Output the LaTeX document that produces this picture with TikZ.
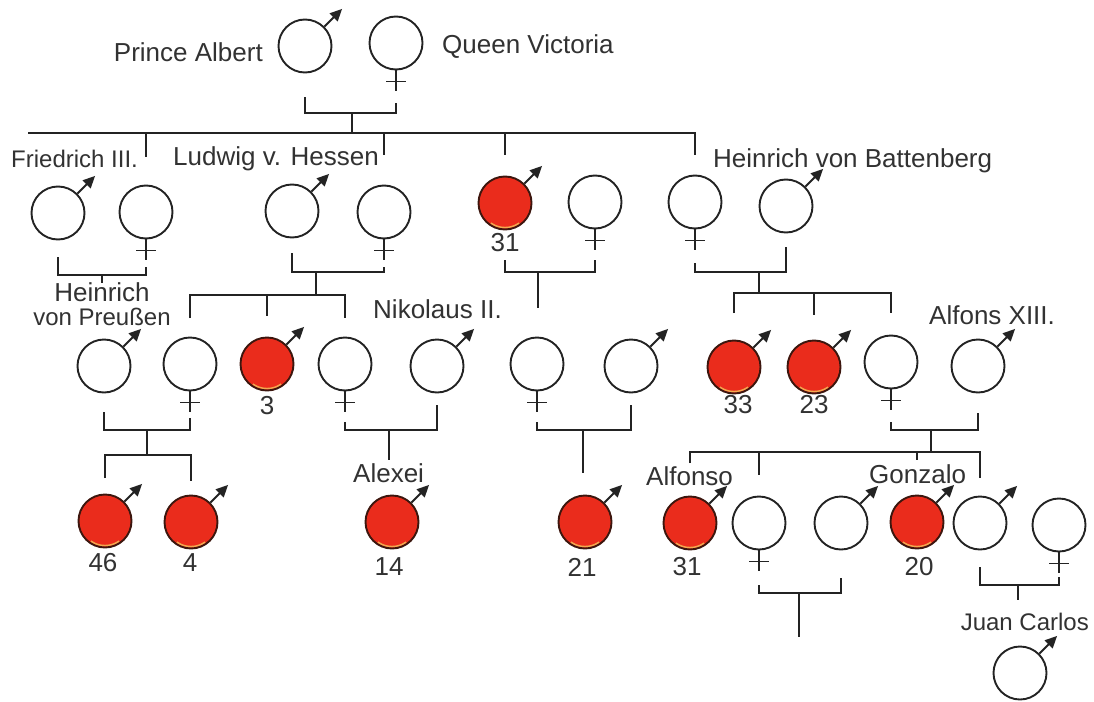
\documentclass[tikz,border=0pt]{standalone}
\usepackage{fontspec}
\setmainfont{Liberation Sans}
\usetikzlibrary{arrows.meta,calc}
\definecolor{ink}{RGB}{35,35,35}
\definecolor{txt}{RGB}{50,50,50}
\definecolor{blood}{RGB}{234,44,28}
\definecolor{rim}{RGB}{60,22,14}
\definecolor{glow}{RGB}{240,170,80}
\tikzset{
  person/.style={circle, draw=ink, line width=1.9pt, minimum size=53pt, inner sep=0pt, fill=white},
  affected/.style={person, fill=blood, draw=rim},
  line/.style={draw=ink, line width=1.9pt},
  marrow/.style={line, -{Triangle[length=12pt,width=11pt]}},
  lbl/.style={text=txt, font=\fontsize{26}{29}\selectfont, inner sep=0pt},
  lblsmall/.style={lbl, font=\fontsize{24}{28}\selectfont},
}
\newcommand{\Mnode}[4]{\node[#1] (#2) at (#3,#4) {};
  \draw[marrow] (#2.45) -- ++(45:25pt);}
\newcommand{\Anode}[3]{\node[affected] (#1) at (#2,#3) {};
  \draw[glow, line width=1.4pt] ($(#1)+(-125:24.5pt)$) arc[start angle=-125, end angle=-55, radius=24.5pt];
  \draw[marrow] (#1.45) -- ++(45:25pt);}
\newcommand{\Fnode}[3]{\node[person] (#1) at (#2,#3) {};
  \draw[line] (#1.south) -- ++(0pt,-21pt) ($(#1.south)+(-10pt,-11pt)$) -- ++(20pt,0pt);}
\begin{document}
\begin{tikzpicture}[x=1pt,y=-1pt]
\fill[white] (0,0) rectangle (1094,701);
\useasboundingbox (0,0) rectangle (1094,701);
% ---------- generation 0
\Mnode{person}{albert}{305}{46}
\Fnode{victoria}{396}{43}
% ---------- generation 1
\Mnode{person}{friedrich}{58}{213}
\Fnode{vicky}{146}{212}
\Mnode{person}{ludwig}{292}{211}
\Fnode{alice}{384}{212}
\Anode{leopold}{505}{203}
\Fnode{helena}{595}{202}
\Fnode{beatrice}{695}{202}
\Mnode{person}{battenberg}{786}{206}
% ---------- generation 2
\Mnode{person}{heinrich}{104}{366}
\Fnode{irene}{190}{364}
\Anode{fritz}{267}{364}
\Fnode{alix}{345}{364}
\Mnode{person}{nikolaus}{437}{366}
\Fnode{aliceA}{537}{364}
\Mnode{person}{alexander}{631}{366}
\Anode{leopoldB}{734}{367}
\Anode{maurice}{814}{367}
\Fnode{ena}{891}{362}
\Mnode{person}{alfons}{978}{366}
% ---------- generation 3
\Anode{waldemar}{105}{521}
\Anode{heinrichB}{191}{522}
\Anode{alexei}{392}{522}
\Anode{rupert}{585}{522}
\Anode{alfonso}{690}{523}
\Fnode{beatriz}{759}{523}
\Mnode{person}{torlonia}{841}{523}
\Anode{gonzalo}{917}{522}
\Mnode{person}{juan}{980}{523}
\Fnode{mercedes}{1059}{525}
% ---------- generation 4
\Mnode{person}{juancarlos}{1020}{673}

% ---------- labels
\node[lbl, anchor=base east] (tAlbert) at (263,61) {Prince Albert};
\node[lbl, anchor=base west] (tVictoria) at (442,53) {Queen Victoria};
\node[lblsmall, anchor=base west] (tFriedrich) at (11,167) {Friedrich III.};
\node[lbl, anchor=base west] (tLudwig) at (173,165) {Ludwig v. Hessen};
\node[lbl, anchor=base west] (tBattenberg) at (713,167) {Heinrich von Battenberg};
\node[lbl] (nLeopold) at (505,243) {31};
\node[lbl, anchor=base] (tHeinrich1) at (102,301) {Heinrich};
\node[lblsmall, anchor=base] (tHeinrich2) at (102,325) {von Preußen};
\node[lbl, anchor=base west] (tNikolaus) at (373,318) {Nikolaus II.};
\node[lbl, anchor=base west] (tAlfons) at (929,324) {Alfons XIII.};
\node[lbl] (nFritz) at (267,406) {3};
\node[lbl] (nLeopoldB) at (738,405) {33};
\node[lbl] (nMaurice) at (814,405) {23};
\node[lbl, anchor=base west] (tAlexei) at (353,482) {Alexei};
\node[lbl, anchor=base west] (tAlfonso) at (646,485) {Alfonso};
\node[lbl, anchor=base west] (tGonzalo) at (869,483) {Gonzalo};
\node[lbl] (nWaldemar) at (103,563) {46};
\node[lbl] (nHeinrichB) at (190,563) {4};
\node[lbl] (nAlexei) at (389,567) {14};
\node[lbl] (nRupert) at (582,567) {21};
\node[lbl] (nAlfonso) at (687,567) {31};
\node[lbl] (nGonzalo) at (919,567) {20};
\node[lblsmall, anchor=base east] (tJuanCarlos) at (1089,630) {Juan Carlos};

% ---------- marriage brackets and stems
\coordinate (s1) at (352,113);
\draw[line] (albert |- 0,97) |- (victoria |- 0,113) -- (victoria |- 0,103);
\draw[line] (s1) -- (s1 |- 0,133);

\coordinate (s2) at (102,275);
\draw[line] (friedrich |- 0,257) |- (vicky |- 0,275) -- (vicky |- 0,267);
\draw[line] (s2) -- (s2 |- 0,283);

\coordinate (s3) at (316,272);
\draw[line] (ludwig |- 0,253) |- (alice |- 0,272) -- (alice |- 0,267);
\draw[line] (s3) -- (s3 |- 0,295);

\coordinate (s4) at (538,272);
\draw[line] (leopold |- 0,260) |- (helena |- 0,272) -- (helena |- 0,260);
\draw[line] (s4) -- (s4 |- 0,308);

\coordinate (s5) at (759,272);
\draw[line] (beatrice |- 0,263) |- (battenberg |- 0,272) -- (battenberg |- 0,247);
\draw[line] (s5) -- (s5 |- 0,293);

\coordinate (s6) at (147,430);
\draw[line] (heinrich |- 0,412) |- (irene |- 0,430) -- (irene |- 0,418);
\draw[line] (s6) -- (s6 |- 0,455);

\coordinate (s7) at (389,430);
\draw[line] (alix |- 0,422) |- (nikolaus |- 0,430) -- (nikolaus |- 0,405);
\draw[line] (s7) -- (s7 |- 0,460);

\coordinate (s8) at (583,430);
\draw[line] (aliceA |- 0,422) |- (alexander |- 0,430) -- (alexander |- 0,405);
\draw[line] (s8) -- (s8 |- 0,473);

\coordinate (s9) at (931,430);
\draw[line] (ena |- 0,422) |- (alfons |- 0,430) -- (alfons |- 0,413);
\draw[line] (s9) -- (s9 |- 0,452);

\coordinate (s10) at (799,593);
\draw[line] (beatriz |- 0,585) |- (torlonia |- 0,593) -- (torlonia |- 0,578);
\draw[line] (s10) -- (s10 |- 0,637);

\coordinate (s11) at (1018,585);
\draw[line] (juan |- 0,567) |- (mercedes |- 0,585) -- (mercedes |- 0,577);
\draw[line] (s11) -- (s11 |- 0,600);

% ---------- sibling lines
\coordinate (lend) at (28,133);
\draw[line] (lend) -- (beatrice |- 0,133) -- (beatrice |- 0,155);
\draw[line] (vicky |- 0,133) -- (vicky |- 0,157);
\draw[line] (alice |- 0,133) -- (alice |- 0,155);
\draw[line] (leopold |- 0,133) -- (leopold |- 0,155);

\draw[line] (irene |- 0,318) -- (irene |- 0,295) -- (alix |- 0,295) -- (alix |- 0,318);
\draw[line] (fritz |- 0,295) -- (fritz |- 0,316);

\draw[line] (leopoldB |- 0,313) -- (leopoldB |- 0,293) -- (ena |- 0,293) -- (ena |- 0,313);
\draw[line] (maurice |- 0,293) -- (maurice |- 0,315);

\draw[line] (waldemar |- 0,478) -- (waldemar |- 0,455) -- (heinrichB |- 0,455) -- (heinrichB |- 0,481);

\draw[line] (alfonso |- 0,463) -- (alfonso |- 0,452) -- (juan |- 0,452) -- (juan |- 0,478);
\draw[line] (beatriz |- 0,452) -- (beatriz |- 0,475);
\draw[line] (gonzalo |- 0,452) -- (gonzalo |- 0,460);
\end{tikzpicture}
\end{document}
